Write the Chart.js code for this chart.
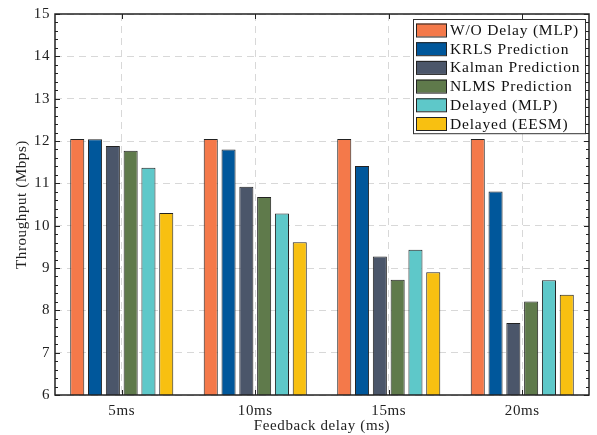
<!DOCTYPE html>
<html>
<head>
<meta charset="utf-8">
<script src="https://cdn.jsdelivr.net/npm/chart.js@4/dist/chart.umd.min.js"></script>
<style>
  html, body { margin: 0; padding: 0; background: #fff; }
  #wrap { width: 597px; height: 435px; }
</style>
</head>
<body>
<div id="wrap"><canvas id="c" width="597" height="435"></canvas></div>
<script>
// Throughput vs feedback delay, grouped bars.
const delays = ["5ms", "10ms", "15ms", "20ms"];
const woDelay = [12.05, 12.05, 12.05, 12.05];
const krls = [12.04, 11.80, 11.41, 10.81];
const kalman = [11.88, 10.92, 9.27, 7.70];
const nlms = [11.77, 10.68, 8.72, 8.21];
const delayedMlp = [11.37, 10.29, 9.43, 8.71];
const delayedEesm = [10.30, 9.61, 8.90, 8.37];
const yTicks = [6, 7, 8, 9, 10, 11, 12, 13, 14, 15];

const FONT = "'Liberation Serif', 'Times New Roman', serif";
const INK = "#222";
const SPACING = "0.6px"; // widen Times a bit toward the LaTeX look

function ds(label, data, color) {
  return {
    label,
    data,
    backgroundColor: color,
    borderColor: INK,
    borderWidth: 1,
    borderSkipped: false,
    categoryPercentage: 0.8,
    barPercentage: 0.79,
  };
}

const spacingPlugin = {
  id: "spacing",
  beforeDraw(chart) { chart.ctx.letterSpacing = SPACING; },
};

// frame with inward ticks, like the matlab box
const framePlugin = {
  id: "frame",
  afterDatasetsDraw(chart) {
    const { ctx, chartArea: a, scales } = chart;
    const y = scales.y, x = scales.x;
    ctx.save();
    ctx.strokeStyle = INK;
    ctx.lineWidth = 1;
    ctx.beginPath();
    for (let v = yTicks[0]; v <= yTicks[yTicks.length - 1] + 1e-6; v += 0.2) {
      const py = Math.round(y.getPixelForValue(v)) + 0.5;
      const major = Math.abs(v - Math.round(v)) < 1e-6;
      const len = major ? 5 : 3;
      ctx.moveTo(a.left, py); ctx.lineTo(a.left + len, py);
      ctx.moveTo(a.right, py); ctx.lineTo(a.right - len, py);
    }
    delays.forEach((_, i) => {
      const px = Math.round(x.getPixelForValue(i)) + 0.5;
      ctx.moveTo(px, a.top); ctx.lineTo(px, a.top + 5);
      ctx.moveTo(px, a.bottom); ctx.lineTo(px, a.bottom - 5);
    });
    ctx.stroke();
    ctx.lineWidth = 1.5;
    ctx.strokeRect(a.left, a.top, a.right - a.left, a.bottom - a.top);
    ctx.restore();
  },
};

// legend boxed inside the upper right corner
const insideLegend = {
  id: "insideLegend",
  afterDraw(chart) {
    const { ctx, chartArea: a } = chart;
    const sets = chart.data.datasets;
    const boxL = 413, boxT = 19, boxR = a.right - 4, rowH = 18.7;
    const boxB = boxT + sets.length * rowH + 2;
    ctx.save();
    ctx.letterSpacing = "0.8px";
    ctx.fillStyle = "#fff";
    ctx.fillRect(boxL, boxT, boxR - boxL, boxB - boxT);
    ctx.strokeStyle = "#333";
    ctx.lineWidth = 1;
    ctx.strokeRect(boxL + 0.5, boxT + 0.5, boxR - boxL, boxB - boxT);
    ctx.font = "15.5px " + FONT;
    ctx.textBaseline = "middle";
    sets.forEach((d, i) => {
      const cy = boxT + 11 + i * rowH;
      ctx.fillStyle = d.backgroundColor;
      ctx.fillRect(416, cy - 6.5, 31, 13);
      ctx.strokeStyle = INK;
      ctx.strokeRect(416.5, cy - 6, 30, 13);
      ctx.fillStyle = "#111";
      ctx.fillText(d.label, 450, cy + 1);
    });
    ctx.restore();
  },
};

const gridStyle = {
  color: "#d8d8d8",
  lineWidth: 1,
  drawTicks: false,
};

new Chart(document.getElementById("c"), {
  type: "bar",
  data: {
    labels: delays,
    datasets: [
      ds("W/O Delay (MLP)", woDelay, "#F4794A"),
      ds("KRLS Prediction", krls, "#00579B"),
      ds("Kalman Prediction", kalman, "#4B566A"),
      ds("NLMS Prediction", nlms, "#5F7A4B"),
      ds("Delayed (MLP)", delayedMlp, "#5EC8C9"),
      ds("Delayed (EESM)", delayedEesm, "#F8C011"),
    ],
  },
  options: {
    responsive: false,
    animation: false,
    devicePixelRatio: 1,
    layout: { padding: { left: 0, top: 12, right: 8, bottom: 0 } },
    plugins: {
      legend: { display: false },
      tooltip: { enabled: false },
    },
    scales: {
      x: {
        grid: { ...gridStyle, offset: false },
        border: { display: false, dash: [7, 5] },
        ticks: { color: "#222", font: { family: FONT, size: 15 }, padding: 7 },
        title: {
          display: true,
          text: "Feedback delay (ms)",
          color: "#222",
          font: { family: FONT, size: 15 },
          padding: { top: -4, bottom: 0 },
        },
        afterFit: (s) => { s.height = 40; },
      },
      y: {
        min: 6,
        max: 15,
        grid: gridStyle,
        border: { display: false, dash: [7, 5] },
        afterBuildTicks: (s) => { s.ticks = yTicks.map((v) => ({ value: v })); },
        ticks: { color: "#222", font: { family: FONT, size: 15 }, padding: 5 },
        title: {
          display: true,
          text: "Throughput (Mbps)",
          color: "#222",
          font: { family: FONT, size: 15 },
          padding: { top: 13, bottom: 0 },
        },
        afterFit: (s) => { s.width = 55; },
      },
    },
  },
  plugins: [spacingPlugin, framePlugin, insideLegend],
});
</script>
</body>
</html>
